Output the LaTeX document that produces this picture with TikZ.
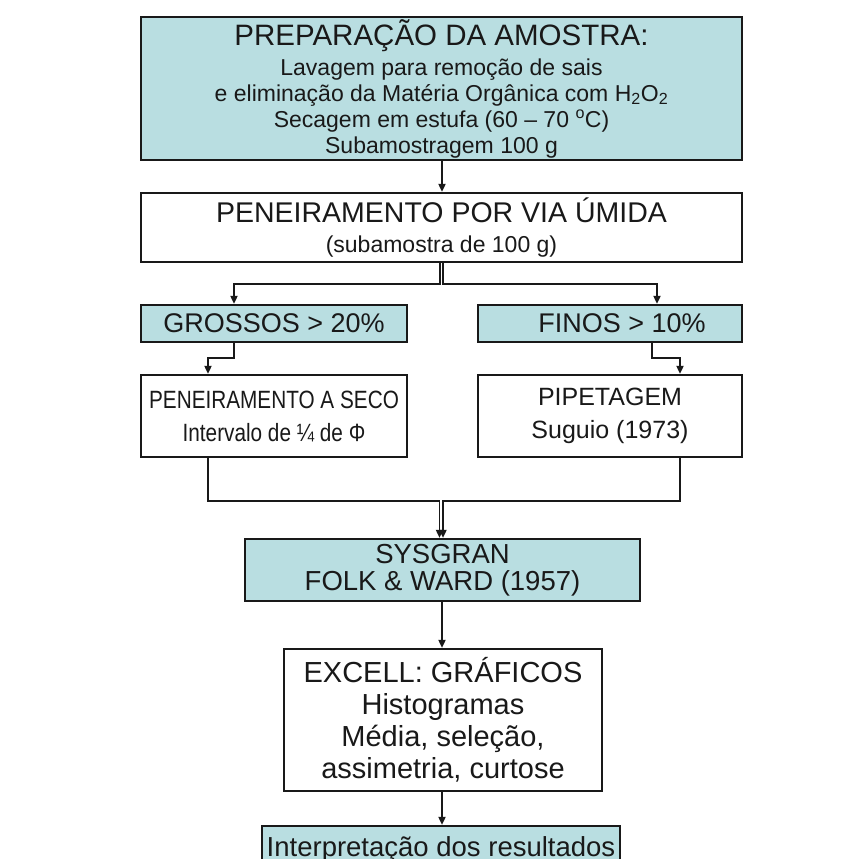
\documentclass[tikz,border=0pt]{standalone}
\usepackage{fontspec}
\setmainfont{Liberation Sans}
\newfontfamily\condfont{Liberation Sans}[FakeStretch=0.83]
\usetikzlibrary{arrows.meta,calc}
\definecolor{boxblue}{RGB}{185,222,225}
\definecolor{ink}{RGB}{25,25,25}
\tikzset{
  bx/.style={draw=ink,line width=2.2pt,rectangle,inner sep=0pt,align=center,text=ink},
  bluebox/.style={bx,fill=boxblue},
  whitebox/.style={bx,fill=white},
  arr/.style={draw=ink,line width=1.7pt,-{Triangle[length=8pt,width=7pt]}},
  mid/.style={font=\fontsize{27}{30}\selectfont},
  lowbox/.style={font=\fontsize{25}{33}\selectfont},
}
\begin{document}
\begin{tikzpicture}[x=1pt,y=-1pt]
\useasboundingbox (0,0) rectangle (862,859);
\fill[white] (0,0) rectangle (862,859);

\node[bluebox,minimum width=601pt,minimum height=143pt,font=\fontsize{23}{26}\selectfont] (top) at (441.5,88.5)
 {{\fontsize{29.5}{29}\selectfont PREPARAÇÃO DA AMOSTRA:}\\[4pt]
  Lavagem para remoção de sais\\
  e eliminação da Matéria Orgânica com H\textsubscript{2}O\textsubscript{2}\\
  Secagem em estufa (60 – 70 \textsuperscript{o}C)\\
  Subamostragem 100 g};

\node[whitebox,minimum width=601pt,minimum height=69pt,font=\fontsize{23}{30}\selectfont] (b2) at (441.5,227.5)
 {{\fontsize{28.5}{28}\selectfont PENEIRAMENTO POR VIA ÚMIDA}\\
  (subamostra de 100 g)};

\node[bluebox,mid,minimum width=266pt,minimum height=37pt] (gro) at (274,323.5) {GROSSOS > 20\%};
\node[bluebox,mid,minimum width=264pt,minimum height=37pt] (fin) at (610,323.5) {\hspace*{24pt}FINOS > 10\%};

\node[whitebox,lowbox,minimum width=266pt,minimum height=82pt] (sec) at (274,416)
 {\condfont PENEIRAMENTO A SECO\\\condfont Intervalo de ¼ de Φ};
\node[whitebox,lowbox,minimum width=264pt,minimum height=82pt] (pip) at (610,416)
 {PIPETAGEM\\Suguio (1973)};

\node[bluebox,font=\fontsize{27.5}{27.5}\selectfont,minimum width=395pt,minimum height=62pt] (sys) at (442.5,570)
 {SYSGRAN\\FOLK \& WARD (1957)};

\node[whitebox,minimum width=318pt,minimum height=142pt,font=\fontsize{29}{32}\selectfont] (exc) at (443,720)
 {EXCELL: GRÁFICOS\\Histogramas\\Média, seleção,\\assimetria, curtose};

\node[bluebox,minimum width=358pt,minimum height=60pt] (int) at (441,856) {};
\node[anchor=base,font=\fontsize{27.5}{30}\selectfont,text=ink,inner sep=0pt] (intt) at (441,856) {Interpretação dos resultados};

% connectors
\draw[arr] ([xshift=0.5pt]top.south) -- ([xshift=0.5pt]b2.north);
\draw[arr] ([xshift=-1.5pt]b2.south) -- ++(0,21) -| ([xshift=-40pt]gro.north);
\draw[arr] ([xshift=1.5pt]b2.south) -- ++(0,21) -| ([xshift=47pt]fin.north);
\draw[arr] ([xshift=-40pt]gro.south) -- ++(0,15) -| ([xshift=-66pt]sec.north);
\draw[arr] ([xshift=42pt]fin.south) -- ++(0,15) -| ([xshift=70pt]pip.north);
\draw[arr] ([xshift=-66pt]sec.south) -- ++(0,43) -| ([xshift=-3pt]sys.north);
\draw[arr] ([xshift=70pt]pip.south) -- ++(0,43) -| ([xshift=0.5pt]sys.north);
\draw[arr] ([xshift=-0.5pt]sys.south) -- ([xshift=-0.5pt]sys.south |- exc.north);
\draw[arr] ([xshift=-1pt]exc.south) -- ([xshift=-1pt]exc.south |- int.north);
\end{tikzpicture}
\end{document}
